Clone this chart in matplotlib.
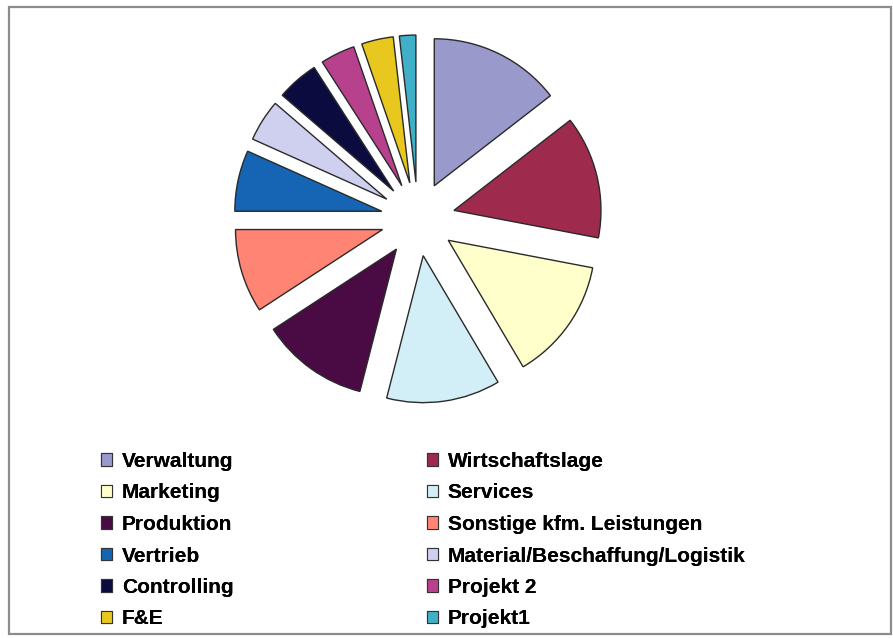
import matplotlib.pyplot as plt
from matplotlib.patches import Patch, Rectangle

# share of each cost centre, clockwise from 12 o'clock
kostenstellen = ["Verwaltung", "Wirtschaftslage", "Marketing", "Services",
                 "Produktion", "Sonstige kfm. Leistungen", "Vertrieb",
                 "Material/Beschaffung/Logistik", "Controlling", "Projekt 2",
                 "F&E", "Projekt1"]
anteile = [14.5, 13.5, 13.5, 12.5, 11.8, 9.2, 6.7, 4.6, 4.6, 3.8, 3.5, 1.8]
farben = ["#9999CC", "#9E2A4E", "#FFFFCC", "#D2EEF6", "#4A0B45", "#FF8473",
          "#1565B4", "#CFCFEF", "#0B0B40", "#B8418E", "#E8C81E", "#40B0C8"]

W, H = 893, 638
fig = plt.figure(figsize=(W / 100, H / 100), dpi=100)
fig.patch.set_facecolor("white")

# axes in pixel units so the pie can be placed directly
ax = fig.add_axes([0, 0, 1, 1])
wedges, _ = ax.pie(anteile, colors=farben, startangle=90, counterclock=False,
                   center=(418, H - 219), radius=147,
                   explode=[37] * len(anteile),
                   wedgeprops=dict(edgecolor="#2a2a2a", linewidth=1.0))
ax.set_xlim(0, W)
ax.set_ylim(0, H)
ax.set_aspect("auto")
ax.axis("off")

# outer chart frame
fig.patches.append(Rectangle((9 / W, 4 / H), 882 / W, 627 / H,
                             transform=fig.transFigure, fill=False,
                             edgecolor="#8c8c8c", linewidth=1.6))

# legend: two columns, filled row by row
font = dict(family="Liberation Sans", weight="bold", size=15)
handles = [Patch(facecolor=c, edgecolor="#333333", linewidth=0.8) for c in farben]
for start, xpos in [(0, 101), (1, 427)]:
    leg = fig.legend(handles[start::2], kostenstellen[start::2],
                     loc="upper left", bbox_to_anchor=(xpos / W, 1 - 452 / H),
                     frameon=False, prop=font, handlelength=0.55,
                     handleheight=0.55, handletextpad=0.45, labelspacing=0.6,
                     borderpad=0, borderaxespad=0)
    fig.add_artist(leg)

fig.savefig("out.png", dpi=100)
